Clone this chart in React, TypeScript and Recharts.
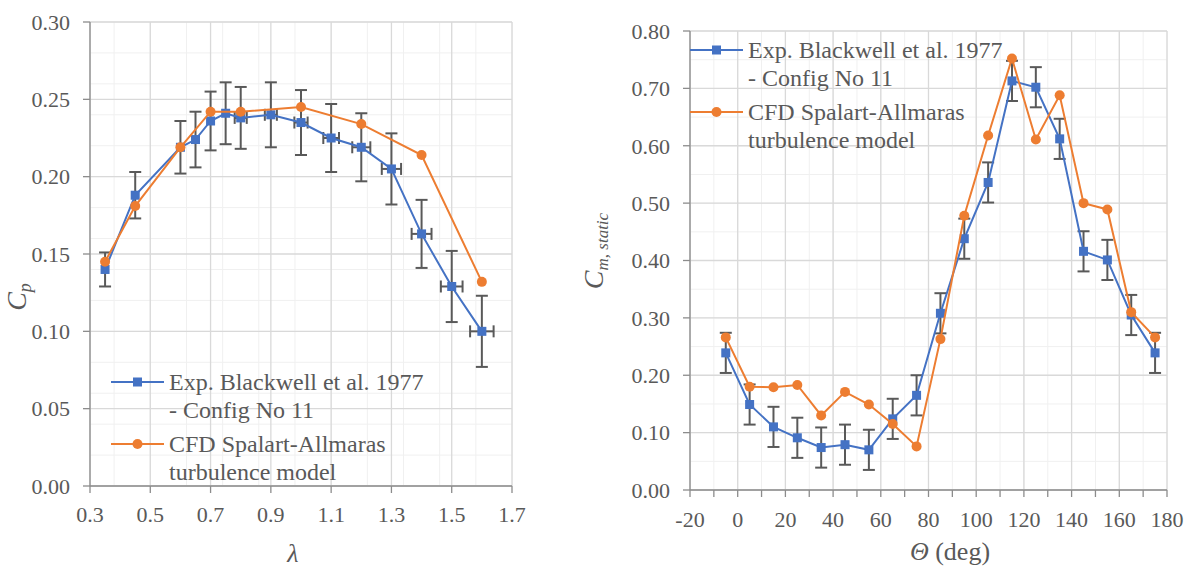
import {
  ScatterChart, Scatter, XAxis, YAxis, CartesianGrid, ErrorBar, Legend, Label,
} from 'recharts'

// Left panel: power coefficient vs tip speed ratio
const LAMBDA_EXP = [0.35, 0.45, 0.6, 0.65, 0.7, 0.75, 0.8, 0.9, 1.0, 1.1, 1.2, 1.3, 1.4, 1.5, 1.6]
const CP_EXP = [0.140, 0.188, 0.219, 0.224, 0.236, 0.241, 0.238, 0.240, 0.235, 0.225, 0.219, 0.205, 0.163, 0.129, 0.100]
const CP_EXP_ERR = [0.011, 0.015, 0.017, 0.018, 0.019, 0.020, 0.020, 0.021, 0.021, 0.022, 0.022, 0.023, 0.022, 0.023, 0.023]
const LAMBDA_EXP_ERR = [0, 0, 0, 0, 0, 0, 0.02, 0.02, 0.022, 0.026, 0.03, 0.032, 0.033, 0.036, 0.039]
const LAMBDA_CFD = [0.35, 0.45, 0.6, 0.7, 0.8, 1.0, 1.2, 1.4, 1.6]
const CP_CFD = [0.145, 0.181, 0.219, 0.242, 0.242, 0.245, 0.234, 0.214, 0.132]
const LAMBDA_TICKS = [0.3, 0.5, 0.7, 0.9, 1.1, 1.3, 1.5, 1.7]
const CP_TICKS = [0, 0.05, 0.1, 0.15, 0.2, 0.25, 0.3]

// Right panel: static moment coefficient vs azimuth
const THETA = [-5, 5, 15, 25, 35, 45, 55, 65, 75, 85, 95, 105, 115, 125, 135, 145, 155, 165, 175]
const CM_EXP = [0.239, 0.149, 0.110, 0.091, 0.074, 0.079, 0.070, 0.124, 0.165, 0.308, 0.438, 0.536, 0.713, 0.702, 0.612, 0.416, 0.401, 0.305, 0.239]
const CM_EXP_ERR = [0.035, 0.035, 0.035, 0.035, 0.035, 0.035, 0.035, 0.035, 0.035, 0.035, 0.035, 0.035, 0.035, 0.035, 0.035, 0.035, 0.035, 0.035, 0.035]
const CM_CFD = [0.266, 0.180, 0.179, 0.183, 0.130, 0.171, 0.149, 0.115, 0.076, 0.263, 0.478, 0.618, 0.752, 0.611, 0.688, 0.500, 0.489, 0.310, 0.266]
const THETA_TICKS = [-20, -10, 0, 10, 20, 30, 40, 50, 60, 70, 80, 90, 100, 110, 120, 130, 140, 150, 160, 170, 180]
const CM_TICKS = [0, 0.1, 0.2, 0.3, 0.4, 0.5, 0.6, 0.7, 0.8]

const EXP_LABEL = ['Exp. Blackwell et al. 1977', '- Config No 11']
const CFD_LABEL = ['CFD Spalart-Allmaras', 'turbulence model']

const FONT = 'Liberation Serif, Tinos, Times New Roman, DejaVu Serif, serif'
const BLUE = '#4472C4'
const ORANGE = '#ED7D31'
const ERR = '#595959'
const TEXT = '#595959'
const MAJOR = '#d9d9d9'
const MINOR = '#f0f0f0'
const AXIS = '#8c8c8c'

const cpExp = LAMBDA_EXP.map((x, i) => ({ x, y: CP_EXP[i], ey: CP_EXP_ERR[i], ex: LAMBDA_EXP_ERR[i] }))
const cpCfd = LAMBDA_CFD.map((x, i) => ({ x, y: CP_CFD[i] }))
const cmExp = THETA.map((x, i) => ({ x, y: CM_EXP[i], ey: CM_EXP_ERR[i] }))
const cmCfd = THETA.map((x, i) => ({ x, y: CM_CFD[i] }))

// grid lines between major ticks
const steps = (from: number, to: number, step: number) => {
  const out: number[] = []
  const n = Math.round((to - from) / step)
  for (let i = 0; i <= n; i++) out.push(+(from + i * step).toFixed(4))
  return out
}

const tickStyle = { fontSize: 22, fill: TEXT, fontFamily: FONT }

const Square = (size: number) => (props: any) => {
  const { cx, cy } = props
  if (cx == null || cy == null) return null
  return <rect x={cx - size / 2} y={cy - size / 2} width={size} height={size} fill={BLUE} />
}

const Dot = (r: number) => (props: any) => {
  const { cx, cy } = props
  if (cx == null || cy == null) return null
  return <circle cx={cx} cy={cy} r={r} fill={ORANGE} />
}

function LegendBox() {
  const items = [
    { key: 'exp', color: BLUE, square: true, lines: EXP_LABEL },
    { key: 'cfd', color: ORANGE, square: false, lines: CFD_LABEL },
  ]
  return (
    <div style={{ fontFamily: FONT, fontSize: 24, color: TEXT, lineHeight: '28px' }}>
      {items.map((it) => (
        <div key={it.key} style={{ display: 'flex', alignItems: 'flex-start', marginBottom: 6 }}>
          <svg width={53} height={28} style={{ flex: 'none' }}>
            <line x1={0} y1={14} x2={53} y2={14} stroke={it.color} strokeWidth={2} />
            {it.square
              ? <rect x={22} y={9.5} width={9} height={9} fill={it.color} />
              : <circle cx={26.5} cy={14} r={5} fill={it.color} />}
          </svg>
          <div style={{ marginLeft: 5, whiteSpace: 'nowrap' }}>
            {it.lines.map((l) => <div key={l}>{l}</div>)}
          </div>
        </div>
      ))}
    </div>
  )
}

function CpChart() {
  return (
    <ScatterChart width={540} height={568} margin={{ top: 22, right: 28, left: 30, bottom: 32 }}
      style={{ fontFamily: FONT }}>
      <CartesianGrid stroke={MINOR} strokeWidth={1}
        verticalValues={steps(0.3, 1.7, 0.04)} horizontalValues={steps(0, 0.3, 0.01)} />
      <CartesianGrid stroke={MAJOR} strokeWidth={1.3}
        verticalValues={LAMBDA_TICKS} horizontalValues={CP_TICKS} />
      <XAxis type="number" dataKey="x" domain={[0.3, 1.7]} ticks={LAMBDA_TICKS} allowDataOverflow
        height={50} tick={tickStyle} tickSize={7} tickMargin={13}
        tickFormatter={(v: number) => v.toFixed(1)}
        axisLine={{ stroke: AXIS, strokeWidth: 1.3 }} tickLine={{ stroke: AXIS, strokeWidth: 1.3 }}>
        <Label content={() => (
          <text x={293} y={562} textAnchor="middle" fontFamily={FONT} fontSize={26}
            fontStyle="italic" fill={TEXT}>λ</text>
        )} />
      </XAxis>
      <YAxis type="number" dataKey="y" domain={[0, 0.3]} ticks={CP_TICKS} allowDataOverflow
        width={60} tick={tickStyle} tickSize={7} tickMargin={13}
        tickFormatter={(v: number) => v.toFixed(2)}
        axisLine={{ stroke: AXIS, strokeWidth: 1.3 }} tickLine={{ stroke: AXIS, strokeWidth: 1.3 }}>
        <Label content={() => (
          <text x={26} y={297} transform="rotate(-90 26 297)" textAnchor="middle"
            fontFamily={FONT} fill={TEXT} fontStyle="italic">
            <tspan fontSize={28}>C</tspan>
            <tspan fontSize={18} dy={5}>p</tspan>
          </text>
        )} />
      </YAxis>
      <Legend layout="vertical" align="center" verticalAlign="middle"
        wrapperStyle={{ left: 111, top: 368, width: 'auto', height: 'auto' }}
        content={() => <LegendBox />} />
      <Scatter data={cpExp} isAnimationActive={false} shape={Square(9)}
        line={{ stroke: BLUE, strokeWidth: 2 }} lineJointType="linear">
        <ErrorBar dataKey="ey" direction="y" width={6} stroke={ERR} strokeWidth={2} isAnimationActive={false} />
        <ErrorBar dataKey="ex" direction="x" width={6} stroke={ERR} strokeWidth={2} isAnimationActive={false} />
      </Scatter>
      <Scatter data={cpCfd} isAnimationActive={false} shape={Dot(5)}
        line={{ stroke: ORANGE, strokeWidth: 2 }} lineJointType="linear" />
    </ScatterChart>
  )
}

function CmChart() {
  return (
    <ScatterChart width={632} height={568} margin={{ top: 31, right: 25, left: 60, bottom: 30 }}
      style={{ fontFamily: FONT }}>
      <CartesianGrid stroke={MINOR} strokeWidth={1}
        verticalValues={THETA_TICKS} horizontalValues={steps(0, 0.8, 0.025)} />
      <CartesianGrid stroke={MAJOR} strokeWidth={1.3}
        verticalValues={steps(-20, 180, 20)} horizontalValues={CM_TICKS} />
      <XAxis type="number" dataKey="x" domain={[-20, 180]} ticks={THETA_TICKS} allowDataOverflow
        height={48} tick={tickStyle} tickSize={7} tickMargin={14} interval={0}
        tickFormatter={(v: number) => (v % 20 === 0 ? String(v) : '')}
        axisLine={{ stroke: AXIS, strokeWidth: 1.3 }} tickLine={{ stroke: AXIS, strokeWidth: 1.3 }}>
        <Label content={() => (
          <text x={390} y={560} textAnchor="middle" fontFamily={FONT} fontSize={26} fill={TEXT}>
            <tspan fontStyle="italic">Θ</tspan>
            <tspan> (deg)</tspan>
          </text>
        )} />
      </XAxis>
      <YAxis type="number" dataKey="y" domain={[0, 0.8]} ticks={CM_TICKS} allowDataOverflow
        width={70} tick={tickStyle} tickSize={7} tickMargin={13}
        tickFormatter={(v: number) => v.toFixed(2)}
        axisLine={{ stroke: AXIS, strokeWidth: 1.3 }} tickLine={{ stroke: AXIS, strokeWidth: 1.3 }}>
        <Label content={() => (
          <text x={43} y={251} transform="rotate(-90 43 251)" textAnchor="middle"
            fontFamily={FONT} fill={TEXT} fontStyle="italic">
            <tspan fontSize={28}>C</tspan>
            <tspan fontSize={17} dy={5}>m, static</tspan>
          </text>
        )} />
      </YAxis>
      <Legend layout="vertical" align="center" verticalAlign="middle"
        wrapperStyle={{ left: 130, top: 36, width: 'auto', height: 'auto' }}
        content={() => <LegendBox />} />
      <Scatter data={cmExp} isAnimationActive={false} shape={Square(9)}
        line={{ stroke: BLUE, strokeWidth: 2 }} lineJointType="linear">
        <ErrorBar dataKey="ey" direction="y" width={6} stroke={ERR} strokeWidth={2} isAnimationActive={false} />
      </Scatter>
      <Scatter data={cmCfd} isAnimationActive={false} shape={Dot(5)}
        line={{ stroke: ORANGE, strokeWidth: 2 }} lineJointType="linear" />
    </ScatterChart>
  )
}

export default function App() {
  return (
    <div style={{ position: 'absolute', left: 0, top: 0, width: 1192, height: 568, background: '#fff', fontFamily: FONT }}>
      <div style={{ position: 'absolute', left: 0, top: 0 }}>
        <CpChart />
      </div>
      <div style={{ position: 'absolute', left: 560, top: 0 }}>
        <CmChart />
      </div>
    </div>
  )
}
